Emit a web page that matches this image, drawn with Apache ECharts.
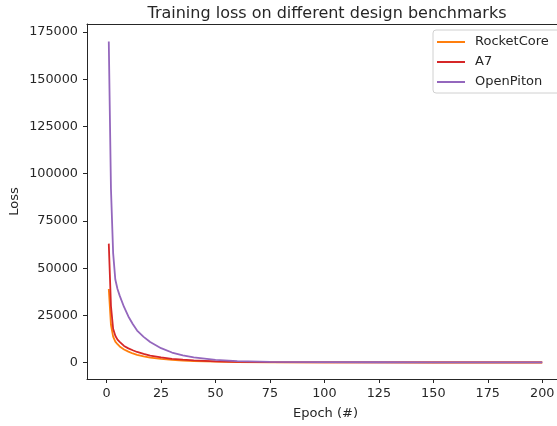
<!DOCTYPE html>
<html>
<head>
<meta charset="utf-8">
<script src="https://cdn.jsdelivr.net/npm/echarts@6/dist/echarts.min.js"></script>
<style>
html,body{margin:0;padding:0;background:#fff;}
#main{width:557px;height:426px;}
</style>
</head>
<body>
<div id="main"></div>
<script>
var epochs=[1,2,3,4,5,6,8,10,12,14,17,20,25,30,35,40,50,60,75,100,125,150,175,200];
var rocketCore=[39000,20000,13800,11200,9800,8600,7000,5900,4900,4200,3400,2700,2000,1500,1150,900,560,380,250,180,150,130,125,120];
var a7=[63000,30000,18000,14300,12200,11000,8900,7600,6600,5700,4700,3800,2800,2100,1600,1250,750,500,320,220,190,170,160,150];
var openPiton=[170000,92000,58000,44000,39000,35500,29500,24500,20500,17000,13700,11000,7700,5400,3900,2800,1500,900,500,300,250,230,210,200];
var xTicks=[0,25,50,75,100,125,150,175,200];
var yTicks=[0,25000,50000,75000,100000,125000,150000,175000];

var seriesNames=['RocketCore','A7','OpenPiton'];
var seriesColors=['#ff7f0e','#d62728','#9467bd'];
var seriesValues=[rocketCore,a7,openPiton];

function pairs(vals){
	var out=[];
	for(var i=0;i<epochs.length;i++){
		out.push([epochs[i],vals[i]]);
	}
	return out;
}

var font='DejaVu Sans';
var ink='#262626';

var series=[];
for(var s=0;s<seriesNames.length;s++){
	series.push({
		name:seriesNames[s],
		type:'line',
		data:pairs(seriesValues[s]),
		symbol:'none',
		smooth:false,
		color:seriesColors[s],
		lineStyle:{width:1.8,color:seriesColors[s]}
	});
}

var myChart=echarts.init(document.getElementById('main'));
var option={
	animation:false,
	title:{
		text:'Training loss on different design benchmarks',
		left:322,
		textAlign:'center',
		top:1,
		textStyle:{fontFamily:font,fontSize:16,fontWeight:'normal',color:ink}
	},
	legend:{
		data:seriesNames,
		orient:'vertical',
		left:433,
		top:30,
		icon:'rect',
		itemWidth:28,
		itemHeight:2,
		itemGap:0,
		padding:[2,40,1,4],
		borderColor:'#d0d0d0',
		borderWidth:1,
		borderRadius:3,
		textStyle:{fontFamily:font,fontSize:13,color:ink,lineHeight:20,padding:[0,0,0,5]}
	},
	grid:{
		left:87,
		top:24,
		width:477,
		bottom:47,
		show:false,
		containLabel:false,
		outerBoundsMode:'none'
	},
	xAxis:[{
		type:'value',
		min:-9,
		max:210,
		name:'Epoch (#)',
		nameLocation:'middle',
		nameGap:28,
		nameTextStyle:{fontFamily:font,fontSize:13,color:ink},
		axisLine:{show:true,onZero:false,lineStyle:{color:ink,width:1}},
		axisTick:{show:true,length:4,lineStyle:{color:ink},customValues:xTicks},
		axisLabel:{fontFamily:font,fontSize:12.8,color:ink,margin:8,customValues:xTicks},
		splitLine:{show:false}
	},{
		//上边框
		type:'value',
		position:'top',
		min:-9,
		max:210,
		axisLine:{show:true,onZero:false,lineStyle:{color:ink,width:1}},
		axisTick:{show:false},
		axisLabel:{show:false},
		splitLine:{show:false}
	}],
	yAxis:{
		type:'value',
		min:-8600,
		max:179200,
		name:'Loss',
		nameLocation:'middle',
		nameGap:66,
		nameMoveOverlap:false,
		nameRotate:90,
		nameTextStyle:{fontFamily:font,fontSize:13,color:ink},
		axisLine:{show:true,onZero:false,lineStyle:{color:ink,width:1}},
		axisTick:{show:true,length:4,lineStyle:{color:ink},customValues:yTicks},
		axisLabel:{fontFamily:font,fontSize:12.8,color:ink,margin:9,customValues:yTicks,
			formatter:function(v){return String(v);}},
		splitLine:{show:false}
	},
	series:series
};
myChart.setOption(option);
</script>
</body>
</html>
